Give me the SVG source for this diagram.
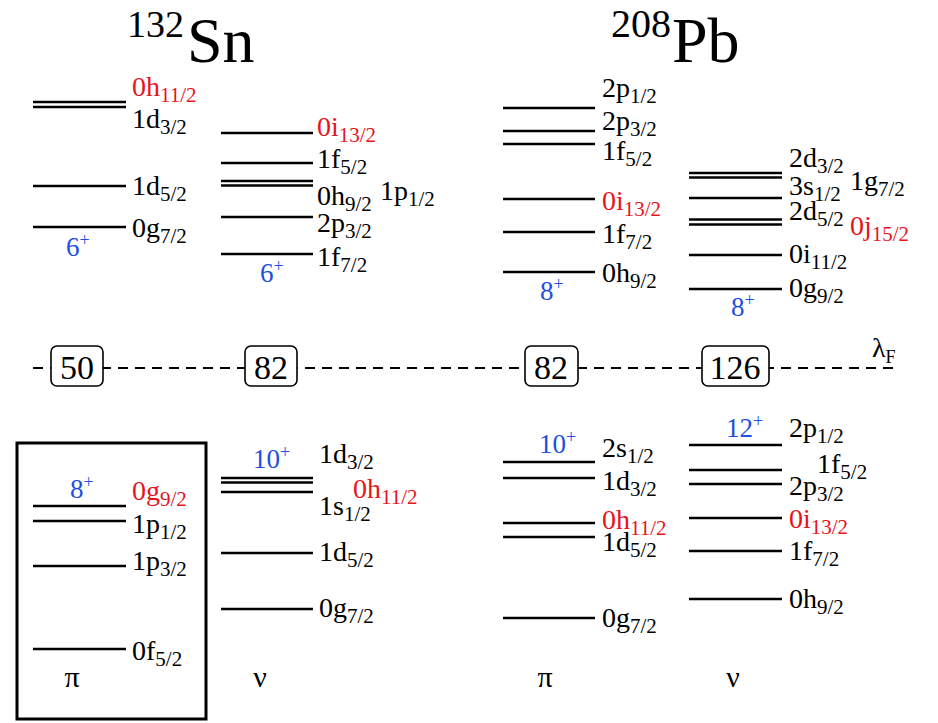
<svg xmlns="http://www.w3.org/2000/svg" width="938" height="723" viewBox="0 0 938 723" font-family="'Liberation Serif', 'Times New Roman', serif">
<style>
text{font-family:'Liberation Serif','Times New Roman',serif}
.t{font-size:28px;fill:#000}
.s{font-size:21px}
.r{fill:#e8141c}
.b{fill:#1f4fe0;font-size:27px}
.p{font-size:18px}
.l{stroke:#000;stroke-width:2.5;fill:none}
.g{font-size:30px}
.box{fill:#fff;stroke:#000;stroke-width:1.6}
.n{font-size:34px}
</style>
<rect width="938" height="723" fill="#fff"/>
<g id="titles">
<text class="t" x="127" y="37" style="font-size:38px">132</text>
<text class="t" x="187" y="62" style="font-size:64px">Sn</text>
<text class="t" x="611" y="37" style="font-size:40px">208</text>
<text class="t" x="672" y="62" style="font-size:64px">Pb</text>
</g>
<g id="fermi">
<line x1="33" y1="368" x2="900" y2="368" stroke="#000" stroke-width="2" stroke-dasharray="10 7"/>
<rect class="box" x="51" y="346" width="52" height="40" rx="6"/>
<text class="t n" x="77" y="379" text-anchor="middle">50</text>
<rect class="box" x="245" y="346" width="52" height="40" rx="6"/>
<text class="t n" x="271" y="379" text-anchor="middle">82</text>
<rect class="box" x="525" y="346" width="53" height="40" rx="6"/>
<text class="t n" x="551" y="379" text-anchor="middle">82</text>
<rect class="box" x="702" y="346" width="67" height="40" rx="6"/>
<text class="t n" x="735" y="379" text-anchor="middle">126</text>
<text class="t" x="872" y="357">λ<tspan class="p" dy="6">F</tspan></text>
</g>
<g id="sn-pi-upper">
<line class="l" x1="33" y1="102" x2="126" y2="102"/>
<line class="l" x1="33" y1="107" x2="126" y2="107"/>
<line class="l" x1="33" y1="186" x2="126" y2="186"/>
<line class="l" x1="33" y1="227" x2="126" y2="227"/>
<text class="t r" x="132" y="96">0h<tspan class="s" dy="6">11/2</tspan></text>
<text class="t" x="132" y="128">1d<tspan class="s" dy="6">3/2</tspan></text>
<text class="t" x="132" y="195">1d<tspan class="s" dy="6">5/2</tspan></text>
<text class="t" x="132" y="237">0g<tspan class="s" dy="6">7/2</tspan></text>
<text class="t b" x="66" y="256">6<tspan class="p" dy="-10">+</tspan></text>
</g>
<g id="sn-nu-upper">
<line class="l" x1="221" y1="133" x2="313" y2="133"/>
<line class="l" x1="221" y1="163" x2="313" y2="163"/>
<line class="l" x1="221" y1="181" x2="313" y2="181"/>
<line class="l" x1="221" y1="185.5" x2="313" y2="185.5"/>
<line class="l" x1="221" y1="217" x2="313" y2="217"/>
<line class="l" x1="221" y1="254" x2="313" y2="254"/>
<text class="t r" x="317" y="136">0i<tspan class="s" dy="6">13/2</tspan></text>
<text class="t" x="317" y="168">1f<tspan class="s" dy="6">5/2</tspan></text>
<text class="t" x="317" y="205">0h<tspan class="s" dy="6">9/2</tspan></text>
<text class="t" x="317" y="232">2p<tspan class="s" dy="6">3/2</tspan></text>
<text class="t" x="317" y="266">1f<tspan class="s" dy="6">7/2</tspan></text>
<text class="t" x="380" y="200">1p<tspan class="s" dy="6">1/2</tspan></text>
<text class="t b" x="260" y="282">6<tspan class="p" dy="-10">+</tspan></text>
</g>
<g id="pb-pi-upper">
<line class="l" x1="503" y1="108" x2="595" y2="108"/>
<line class="l" x1="503" y1="131" x2="595" y2="131"/>
<line class="l" x1="503" y1="144" x2="595" y2="144"/>
<line class="l" x1="503" y1="199" x2="595" y2="199"/>
<line class="l" x1="503" y1="232" x2="595" y2="232"/>
<line class="l" x1="503" y1="272" x2="595" y2="272"/>
<text class="t" x="602" y="97">2p<tspan class="s" dy="6">1/2</tspan></text>
<text class="t" x="602" y="130">2p<tspan class="s" dy="6">3/2</tspan></text>
<text class="t" x="602" y="160">1f<tspan class="s" dy="6">5/2</tspan></text>
<text class="t r" x="602" y="210">0i<tspan class="s" dy="6">13/2</tspan></text>
<text class="t" x="602" y="243">1f<tspan class="s" dy="6">7/2</tspan></text>
<text class="t" x="602" y="282">0h<tspan class="s" dy="6">9/2</tspan></text>
<text class="t b" x="540" y="300">8<tspan class="p" dy="-10">+</tspan></text>
</g>
<g id="pb-nu-upper">
<line class="l" x1="689" y1="173" x2="782" y2="173"/>
<line class="l" x1="689" y1="177.5" x2="782" y2="177.5"/>
<line class="l" x1="689" y1="198" x2="782" y2="198"/>
<line class="l" x1="689" y1="219.5" x2="782" y2="219.5"/>
<line class="l" x1="689" y1="224.5" x2="782" y2="224.5"/>
<line class="l" x1="689" y1="255" x2="782" y2="255"/>
<line class="l" x1="689" y1="289" x2="782" y2="289"/>
<text class="t" x="789" y="167">2d<tspan class="s" dy="6">3/2</tspan></text>
<text class="t" x="850" y="190">1g<tspan class="s" dy="6">7/2</tspan></text>
<text class="t" x="789" y="195">3s<tspan class="s" dy="6">1/2</tspan></text>
<text class="t" x="789" y="220">2d<tspan class="s" dy="6">5/2</tspan></text>
<text class="t r" x="850" y="235">0j<tspan class="s" dy="6">15/2</tspan></text>
<text class="t" x="789" y="263">0i<tspan class="s" dy="6">11/2</tspan></text>
<text class="t" x="789" y="297">0g<tspan class="s" dy="6">9/2</tspan></text>
<text class="t b" x="731" y="316">8<tspan class="p" dy="-10">+</tspan></text>
</g>
<g id="sn-pi-lower">
<rect x="17" y="443" width="189" height="276" fill="none" stroke="#000" stroke-width="3"/>
<line class="l" x1="33" y1="506" x2="126" y2="506"/>
<line class="l" x1="33" y1="521" x2="126" y2="521"/>
<line class="l" x1="33" y1="566" x2="126" y2="566"/>
<line class="l" x1="33" y1="649" x2="126" y2="649"/>
<text class="t r" x="132" y="500">0g<tspan class="s" dy="6">9/2</tspan></text>
<text class="t" x="132" y="533">1p<tspan class="s" dy="6">1/2</tspan></text>
<text class="t" x="132" y="570">1p<tspan class="s" dy="6">3/2</tspan></text>
<text class="t" x="132" y="660">0f<tspan class="s" dy="6">5/2</tspan></text>
<text class="t b" x="70" y="498">8<tspan class="p" dy="-10">+</tspan></text>
<text class="t g" x="72" y="687" text-anchor="middle">π</text>
</g>
<g id="sn-nu-lower">
<line class="l" x1="221" y1="478" x2="313" y2="478"/>
<line class="l" x1="221" y1="482.5" x2="313" y2="482.5"/>
<line class="l" x1="221" y1="492" x2="313" y2="492"/>
<line class="l" x1="221" y1="553" x2="313" y2="553"/>
<line class="l" x1="221" y1="609" x2="313" y2="609"/>
<text class="t" x="319" y="463">1d<tspan class="s" dy="6">3/2</tspan></text>
<text class="t r" x="353" y="498">0h<tspan class="s" dy="6">11/2</tspan></text>
<text class="t" x="319" y="515">1s<tspan class="s" dy="6">1/2</tspan></text>
<text class="t" x="319" y="561">1d<tspan class="s" dy="6">5/2</tspan></text>
<text class="t" x="319" y="617">0g<tspan class="s" dy="6">7/2</tspan></text>
<text class="t b" x="253" y="468">10<tspan class="p" dy="-10">+</tspan></text>
<text class="t g" x="260" y="687" text-anchor="middle">ν</text>
</g>
<g id="pb-pi-lower">
<line class="l" x1="503" y1="462" x2="595" y2="462"/>
<line class="l" x1="503" y1="478" x2="595" y2="478"/>
<line class="l" x1="503" y1="523" x2="595" y2="523"/>
<line class="l" x1="503" y1="537" x2="595" y2="537"/>
<line class="l" x1="503" y1="618" x2="595" y2="618"/>
<text class="t" x="602" y="457">2s<tspan class="s" dy="6">1/2</tspan></text>
<text class="t" x="602" y="490">1d<tspan class="s" dy="6">3/2</tspan></text>
<text class="t r" x="602" y="529">0h<tspan class="s" dy="6">11/2</tspan></text>
<text class="t" x="602" y="551">1d<tspan class="s" dy="6">5/2</tspan></text>
<text class="t" x="602" y="627">0g<tspan class="s" dy="6">7/2</tspan></text>
<text class="t b" x="539" y="453">10<tspan class="p" dy="-10">+</tspan></text>
<text class="t g" x="545" y="687" text-anchor="middle">π</text>
</g>
<g id="pb-nu-lower">
<line class="l" x1="689" y1="445" x2="782" y2="445"/>
<line class="l" x1="689" y1="470" x2="782" y2="470"/>
<line class="l" x1="689" y1="484" x2="782" y2="484"/>
<line class="l" x1="689" y1="518" x2="782" y2="518"/>
<line class="l" x1="689" y1="551" x2="782" y2="551"/>
<line class="l" x1="689" y1="599" x2="782" y2="599"/>
<text class="t" x="789" y="437">2p<tspan class="s" dy="6">1/2</tspan></text>
<text class="t" x="817" y="473">1f<tspan class="s" dy="6">5/2</tspan></text>
<text class="t" x="789" y="495">2p<tspan class="s" dy="6">3/2</tspan></text>
<text class="t r" x="789" y="528">0i<tspan class="s" dy="6">13/2</tspan></text>
<text class="t" x="789" y="560">1f<tspan class="s" dy="6">7/2</tspan></text>
<text class="t" x="789" y="608">0h<tspan class="s" dy="6">9/2</tspan></text>
<text class="t b" x="726" y="437">12<tspan class="p" dy="-10">+</tspan></text>
<text class="t g" x="733" y="687" text-anchor="middle">ν</text>
</g>
</svg>
